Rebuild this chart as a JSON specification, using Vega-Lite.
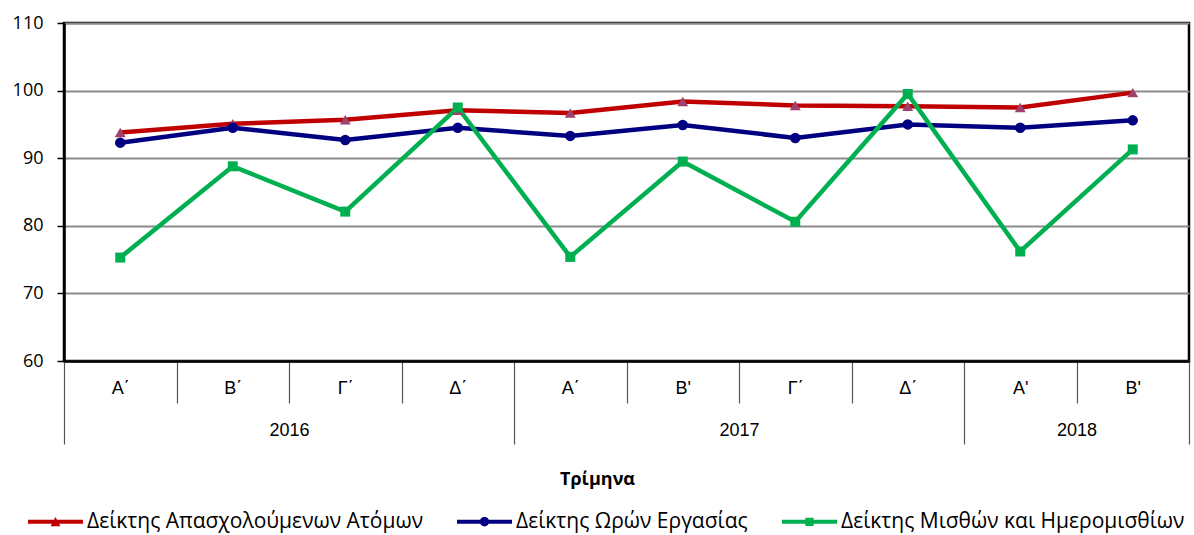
{
  "$schema": "https://vega.github.io/schema/vega-lite/v6.json",
  "width": 1125,
  "height": 338,
  "autosize": "none",
  "padding": {"left": 64, "top": 23, "right": 5, "bottom": 174},
  "background": "white",
  "config": {
    "font": "Open Sans",
    "view": {"stroke": "#000000", "strokeWidth": 2.5}
  },
  "data": {
    "values": [
      {"idx": 1, "Δείκτης Απασχολούμενων Ατόμων": 93.8, "Δείκτης Ωρών Εργασίας": 92.3, "Δείκτης Μισθών και Ημερομισθίων": 75.3},
      {"idx": 2, "Δείκτης Απασχολούμενων Ατόμων": 95.1, "Δείκτης Ωρών Εργασίας": 94.5, "Δείκτης Μισθών και Ημερομισθίων": 88.8},
      {"idx": 3, "Δείκτης Απασχολούμενων Ατόμων": 95.7, "Δείκτης Ωρών Εργασίας": 92.7, "Δείκτης Μισθών και Ημερομισθίων": 82.1},
      {"idx": 4, "Δείκτης Απασχολούμενων Ατόμων": 97.1, "Δείκτης Ωρών Εργασίας": 94.5, "Δείκτης Μισθών και Ημερομισθίων": 97.5},
      {"idx": 5, "Δείκτης Απασχολούμενων Ατόμων": 96.7, "Δείκτης Ωρών Εργασίας": 93.3, "Δείκτης Μισθών και Ημερομισθίων": 75.4},
      {"idx": 6, "Δείκτης Απασχολούμενων Ατόμων": 98.4, "Δείκτης Ωρών Εργασίας": 94.9, "Δείκτης Μισθών και Ημερομισθίων": 89.5},
      {"idx": 7, "Δείκτης Απασχολούμενων Ατόμων": 97.8, "Δείκτης Ωρών Εργασίας": 93.0, "Δείκτης Μισθών και Ημερομισθίων": 80.6},
      {"idx": 8, "Δείκτης Απασχολούμενων Ατόμων": 97.7, "Δείκτης Ωρών Εργασίας": 95.0, "Δείκτης Μισθών και Ημερομισθίων": 99.5},
      {"idx": 9, "Δείκτης Απασχολούμενων Ατόμων": 97.5, "Δείκτης Ωρών Εργασίας": 94.5, "Δείκτης Μισθών και Ημερομισθίων": 76.2},
      {"idx": 10, "Δείκτης Απασχολούμενων Ατόμων": 99.7, "Δείκτης Ωρών Εργασίας": 95.6, "Δείκτης Μισθών και Ημερομισθίων": 91.3}
    ]
  },
  "transform": [
    {"fold": ["Δείκτης Απασχολούμενων Ατόμων", "Δείκτης Ωρών Εργασίας", "Δείκτης Μισθών και Ημερομισθίων"], "as": ["series", "value"]}
  ],
  "encoding": {
    "x": {
      "field": "idx",
      "type": "quantitative",
      "scale": {"domain": [0.5, 10.5], "nice": false, "zero": false},
      "axis": {
        "values": [0.5, 1, 1.5, 2, 2.5, 3, 3.5, 4, 4.5, 5, 5.5, 6, 6.5, 7, 7.5, 8, 8.5, 9, 9.5, 10, 10.5],
        "labelExpr": "datum.value % 1 == 0 ? [\"Α΄\",\"Β΄\",\"Γ΄\",\"Δ΄\",\"Α΄\",\"Β'\",\"Γ΄\",\"Δ΄\",\"Α'\",\"Β'\"][datum.value - 1] : (datum.value == 2.5 ? \"2016\" : datum.value == 6.5 ? \"2017\" : datum.value == 9.5 ? \"2018\" : \"\")",
        "labelOverlap": false,
        "labelFlush": false,
        "labelBound": false,
        "labelFont": "Liberation Sans",
        "labelFontSize": 18,
        "labelColor": "#000000",
        "labelBaseline": "middle",
        "labelPadding": 27,
        "tickSize": {"condition": [
          {"test": "datum.value == 0.5 || datum.value == 4.5 || datum.value == 8.5 || datum.value == 10.5", "value": 83},
          {"test": "datum.value % 1 == 0", "value": 0}
        ], "value": 42},
        "tickColor": "#555555",
        "tickWidth": 1.2,
        "tickOpacity": {"condition": {"test": "datum.value % 1 == 0", "value": 0}, "value": 1},
        "domainColor": "#000000",
        "domainWidth": 2.5,
        "grid": false,
        "title": "Τρίμηνα",
        "titleFont": "Open Sans",
        "titleFontSize": 18,
        "titleFontWeight": "bold",
        "titleColor": "#000000",
        "titleX": 533,
        "titleY": 118,
        "titleAlign": "center",
        "titleBaseline": "middle",
        "titleAnchor": null
      }
    },
    "y": {
      "field": "value",
      "type": "quantitative",
      "scale": {"domain": [60, 110], "nice": false, "zero": false},
      "axis": {
        "values": [60, 70, 80, 90, 100, 110],
        "grid": true,
        "gridColor": "#8a8a8a",
        "gridWidth": 2,
        "tickColor": "#000000",
        "tickSize": 7,
        "tickWidth": 1.5,
        "domainColor": "#000000",
        "domainWidth": 2.5,
        "labelFont": "Open Sans",
        "labelFontSize": 18,
        "labelColor": "#000000",
        "labelPadding": 14,
        "title": null
      }
    }
  },
  "layer": [
    {
      "mark": {"type": "line", "strokeWidth": 4.5},
      "encoding": {
        "color": {
          "field": "series",
          "type": "nominal",
          "sort": ["Δείκτης Απασχολούμενων Ατόμων", "Δείκτης Ωρών Εργασίας", "Δείκτης Μισθών και Ημερομισθίων"],
          "scale": {
            "domain": ["Δείκτης Απασχολούμενων Ατόμων", "Δείκτης Ωρών Εργασίας", "Δείκτης Μισθών και Ημερομισθίων"],
            "range": ["#C00000", "#000080", "#00B050"]
          },
          "legend": {
            "orient": "none",
            "legendX": -36,
            "legendY": 471,
            "direction": "horizontal",
            "title": null,
            "padding": 0,
            "symbolSize": 3025,
            "symbolType": "stroke",
            "labelFont": "Open Sans",
            "labelFontSize": 21,
            "labelColor": "#000000",
            "labelOffset": 4,
            "columnPadding": 34,
            "labelLimit": 500,
            "encode": {
              "symbols": {
                "update": {
                  "shape": {"signal": "datum.value == 'Δείκτης Απασχολούμενων Ατόμων' ? 'M-1,-0.075L1,-0.075L1,0.075L-1,0.075Z M-0.18,0.16L0,-0.17L0.18,0.16Z' : datum.value == 'Δείκτης Ωρών Εργασίας' ? 'M-1,-0.075L1,-0.075L1,0.075L-1,0.075Z M-0.17,0A0.17,0.17 0 1,1 0.17,0A0.17,0.17 0 1,1 -0.17,0Z' : 'M-1,-0.075L1,-0.075L1,0.075L-1,0.075Z M-0.15,-0.15L0.15,-0.15L0.15,0.15L-0.15,0.15Z'"},
                  "fill": {"scale": "color", "field": "value"},
                  "stroke": {"value": "transparent"},
                  "strokeWidth": {"value": 0},
                  "opacity": {"value": 1}
                }
              }
            }
          }
        }
      }
    },
    {
      "transform": [{"filter": "datum.series == 'Δείκτης Απασχολούμενων Ατόμων'"}],
      "mark": {"type": "point", "shape": "triangle-up", "filled": true, "opacity": 1, "size": 120, "strokeWidth": 0, "fill": "#A0406E"}
    },
    {
      "transform": [{"filter": "datum.series == 'Δείκτης Ωρών Εργασίας'"}],
      "mark": {"type": "point", "shape": "circle", "filled": true, "opacity": 1, "size": 110, "strokeWidth": 0, "fill": "#000080"}
    },
    {
      "transform": [{"filter": "datum.series == 'Δείκτης Μισθών και Ημερομισθίων'"}],
      "mark": {"type": "point", "shape": "square", "filled": true, "opacity": 1, "size": 100, "strokeWidth": 0, "fill": "#00B050"}
    }
  ]
}
